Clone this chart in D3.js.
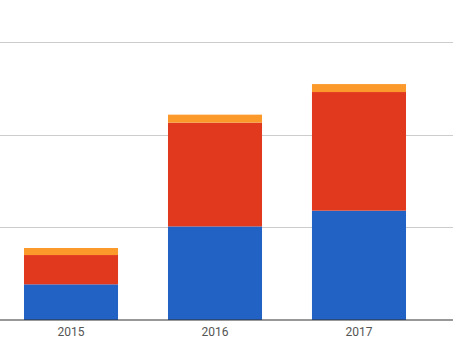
<!DOCTYPE html>
<meta charset="utf-8">
<style>
body { margin: 0; background: #fff; }
svg { font: 12px Roboto, sans-serif; display: block; }
.grid line { stroke: #ccc; shape-rendering: crispEdges; }
.xlab text { fill: #555; }
</style>
<body>
<script src="https://d3js.org/d3.v7.min.js"></script>
<script>
var width = 453,
    height = 340;

var years = ["2015", "2016", "2017"];
var seriesA = [3.85, 10.1, 11.8];
var seriesB = [3.16, 11.2, 12.8];
var seriesC = [0.76, 0.86, 0.86];
var gridTicks = [10, 20, 30];

var colors = ["#2262c4", "#e0391d", "#fb9a2a"];

var rows = years.map(function(y, i) {
  return { year: y, a: seriesA[i], b: seriesB[i], c: seriesC[i] };
});

var stack = d3.stack().keys(["a", "b", "c"]);
var layers = stack(rows);

var x = d3.scaleBand()
  .domain(years)
  .range([-1, 431])
  .paddingInner(0.347)
  .paddingOuter(0.1736);

var y = d3.scaleLinear()
  .domain([0, 30])
  .range([320, 42]);

var svg = d3.select("body").append("svg")
  .attr("width", width)
  .attr("height", height);

// gridlines
svg.append("g")
  .attr("class", "grid")
  .selectAll("line")
  .data(gridTicks)
  .enter().append("line")
    .attr("x1", 0)
    .attr("x2", width)
    .attr("y1", function(d) { return Math.round(y(d)) + 0.5; })
    .attr("y2", function(d) { return Math.round(y(d)) + 0.5; });

// bars
svg.append("g")
  .selectAll("g")
  .data(layers)
  .enter().append("g")
    .attr("fill", function(d, i) { return colors[i]; })
  .selectAll("rect")
  .data(function(d) { return d; })
  .enter().append("rect")
    .attr("x", function(d) { return x(d.data.year); })
    .attr("width", x.bandwidth())
    .attr("y", function(d) { return y(d[1]); })
    .attr("height", function(d) { return y(d[0]) - y(d[1]); });

// baseline
svg.append("line")
  .attr("x1", 0)
  .attr("x2", width)
  .attr("y1", y(0))
  .attr("y2", y(0))
  .attr("stroke", "#333")
  .attr("stroke-width", 1.2);

// year labels
svg.append("g")
  .attr("class", "xlab")
  .selectAll("text")
  .data(years)
  .enter().append("text")
    .attr("x", function(d) { return x(d) + x.bandwidth() / 2; })
    .attr("y", 336)
    .attr("text-anchor", "middle")
    .text(function(d) { return d; });
</script>
